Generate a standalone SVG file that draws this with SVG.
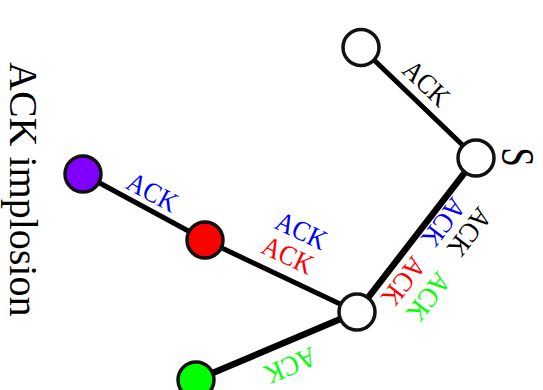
<svg xmlns="http://www.w3.org/2000/svg" width="543" height="390" viewBox="0 0 543 390">
<style>
  text { font-family: "Liberation Serif", "Times New Roman", serif; }
  .lbl { font-size: 28px; text-anchor: middle; }
  .edge { stroke: #000; fill: none; }
  .thin { stroke-width: 5; }
  .thick { stroke-width: 6.5; }
  .node { stroke: #111; stroke-width: 3.5; }
</style>
<rect width="543" height="390" fill="#fff"/>
<g id="connectors">
  <line class="edge thin" x1="361" y1="47.5" x2="476" y2="158"/>
  <line class="edge thick" x1="476" y1="158" x2="357" y2="312"/>
  <line class="edge thin" x1="357" y1="312" x2="205" y2="240"/>
  <line class="edge thin" x1="205" y1="240" x2="83" y2="174"/>
  <line class="edge thick" x1="357" y1="312" x2="196" y2="380"/>
</g>
<g id="node-top"><circle class="node" cx="361" cy="47.5" r="18" fill="#fff"/></g>
<g id="node-S"><circle class="node" cx="476" cy="158" r="18" fill="#fff"/>
  <text transform="translate(502,157) rotate(90) scale(0.75,1)" font-size="46" text-anchor="middle">S</text></g>
<g id="node-hub"><circle class="node" cx="357" cy="312" r="18" fill="#fff"/></g>
<g id="node-red"><circle class="node" cx="205" cy="240" r="18" fill="#ff0000"/></g>
<g id="node-purple"><circle class="node" cx="83" cy="174" r="18" fill="#7f00ff"/></g>
<g id="node-green"><circle class="node" cx="196" cy="380" r="18" fill="#00ff00"/></g>
<g id="labels">
  <text class="lbl" fill="#000" transform="translate(420,90) rotate(43.7) scale(0.9,1)">ACK</text>
  <text class="lbl" fill="#0000ff" transform="translate(148,200.5) rotate(28.4) scale(0.9,1)">ACK</text>
  <text class="lbl" fill="#0000ff" transform="translate(297.4,239.2) rotate(25.3) scale(0.9,1)">ACK</text>
  <text class="lbl" fill="#ff0000" transform="translate(283.9,263.7) rotate(25.3) scale(0.9,1)">ACK</text>
  <text class="lbl" fill="#0000ff" transform="translate(436.3,216.8) rotate(127.7) scale(0.9,1)">ACK</text>
  <text class="lbl" fill="#000" transform="translate(462.3,226.5) rotate(127.7) scale(0.9,1)">ACK</text>
  <text class="lbl" fill="#ff0000" transform="translate(396.3,275.8) rotate(127.7) scale(0.9,1)">ACK</text>
  <text class="lbl" fill="#00ff00" transform="translate(421.3,291.3) rotate(127.7) scale(0.9,1)">ACK</text>
  <text class="lbl" fill="#00ff00" transform="translate(286.7,357.2) rotate(157.1) scale(0.9,1)">ACK</text>
</g>
<g id="title">
  <text transform="translate(10,62) rotate(90)" font-size="40">ACK implosion</text>
</g>
</svg>
